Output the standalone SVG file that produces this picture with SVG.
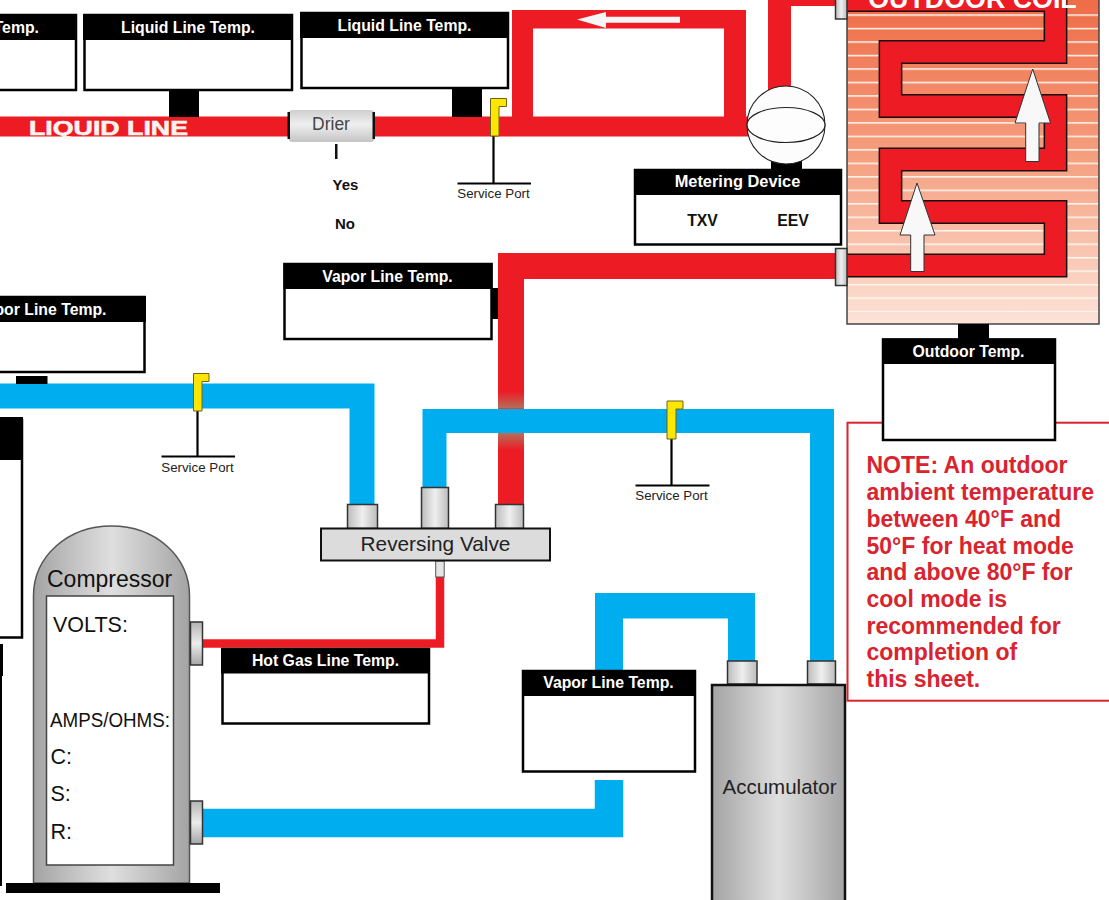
<svg xmlns="http://www.w3.org/2000/svg" width="1109" height="900" viewBox="0 0 1109 900">
<style>
text{font-family:"Liberation Sans",Arial,sans-serif}
.r{fill:#ed1c24}
.b{fill:#00aeef}
.pr{fill:none;stroke:#ed1c24;stroke-linejoin:miter}
.pb{fill:none;stroke:#00aeef;stroke-linejoin:miter}
.box{fill:#fff;stroke:#000;stroke-width:2.5}
.hd{fill:#000}
.t{font-weight:700;font-size:15.8px;fill:#fff;text-anchor:middle}
.k{font-weight:700;font-size:15.8px;fill:#111;text-anchor:middle}
.sp{font-size:13.3px;fill:#222;text-anchor:middle}
.port{fill:#ffe600;stroke:#6b6420;stroke-width:1}
.lead{fill:none;stroke:#000;stroke-width:2.2}
.fit{stroke:#333;stroke-width:1.5}
.comp{font-size:21.5px;fill:#111}
.note{font-weight:700;font-size:23px;fill:#d9232e}
.ar{fill:#f8f8f8;stroke:#333;stroke-width:1}
</style>
<defs>
<linearGradient id="gH"><stop offset="0" stop-color="#bcbcbc"/><stop offset=".5" stop-color="#efefef"/><stop offset="1" stop-color="#bcbcbc"/></linearGradient>
<linearGradient id="gV" x2="0" y2="1"><stop offset="0" stop-color="#b4b4b4"/><stop offset=".5" stop-color="#ececec"/><stop offset="1" stop-color="#a6a6a6"/></linearGradient>
<linearGradient id="gDr" x2="0" y2="1"><stop offset="0" stop-color="#cfcfcf"/><stop offset=".45" stop-color="#efefef"/><stop offset="1" stop-color="#c4c4c4"/></linearGradient>
<linearGradient id="gTank"><stop offset="0" stop-color="#a4a4a4"/><stop offset=".5" stop-color="#dfdfdf"/><stop offset="1" stop-color="#a4a4a4"/></linearGradient>
<linearGradient id="gCoil" x2="0" y2="1"><stop offset="0" stop-color="#ee6a45"/><stop offset=".5" stop-color="#f5a080"/><stop offset="1" stop-color="#fce3d8"/></linearGradient>
<linearGradient id="gUp" x2="0" y2="1"><stop offset="0" stop-color="#ed1c24"/><stop offset="1" stop-color="#b56f5c"/></linearGradient>
<linearGradient id="gDn" x2="0" y2="1"><stop offset="0" stop-color="#b56f5c"/><stop offset="1" stop-color="#ed1c24"/></linearGradient>
<pattern id="stripes" patternUnits="userSpaceOnUse" width="20" height="13.48" y="0.85"><rect width="20" height="1.5" fill="#fff6f0"/></pattern>
</defs>

<g id="connectors">
<rect class="r" x="0" y="116.500" width="750" height="20"/>
<path class="r" d="M512 120V10H746V120H724V28.500H533V120Z"/>
<path class="pr" stroke-width="23" d="M779.500 95V-6"/>
<rect class="r" x="768" y="0" width="70" height="6"/>
<path class="pr" stroke-width="26" d="M511 504V266H838"/>
<rect x="498" y="391.500" width="26" height="17" fill="url(#gUp)"/>
<rect x="498" y="433" width="26" height="17" fill="url(#gDn)"/>
<path class="pb" stroke-width="25" d="M0 396H362V504"/>
<path class="pb" stroke-width="24" d="M434.500 487V421H822V662"/>
<path class="b" d="M595 672V593H755V662H728V618.500H623V672Z"/>
<path class="pb" stroke-width="28.500" d="M203 823H609V780"/>
<path class="pr" stroke-width="8.500" d="M440 577V643.500H203"/>
</g>

<g id="outdoor-coil">
<rect x="847" y="-5" width="252" height="329" fill="url(#gCoil)" stroke="#444" stroke-width="1.500"/>
<rect x="848" y="12" width="250" height="300" fill="url(#stripes)"/>
<path d="M847 0H1055.500V52H890.500V106H1055.500V159.500H890.500V212H1055.500V265.500H847" fill="none" stroke="#1a0a0a" stroke-width="23.800"/>
<path d="M847 0H1055.500V52H890.500V106H1055.500V159.500H890.500V212H1055.500V265.500H847" fill="none" stroke="#ed1c24" stroke-width="20.800"/>
<path class="ar" d="M1032.700 69L1050.500 123H1039V161.500H1025.700V123H1015Z"/>
<path class="ar" d="M917 183L935 235H924V271.500H910.700V235H900Z"/>
<text x="972.500" y="8" font-size="26.800" font-weight="700" fill="#fff" text-anchor="middle">OUTDOOR COIL</text>
<rect class="fit" x="835.500" y="-4" width="11.500" height="23" fill="url(#gH)"/>
<rect class="fit" x="835.500" y="248.500" width="11.500" height="37" fill="url(#gH)"/>
</g>

<path id="flow-arrow" fill="#f6f6f6" d="M577 19.500L606 12V16.700H680V22.700H606V28Z"/>

<g id="temp-liquid-1">
<rect class="box" x="-5" y="15" width="81" height="75"/>
<rect class="hd" x="0" y="14" width="77" height="26"/>
<text class="t" x="39" y="33" style="text-anchor:end">Temp.</text>
</g>
<g id="temp-liquid-2">
<rect class="hd" x="169" y="90" width="30" height="27"/>
<rect class="box" x="84.500" y="15" width="207.500" height="75"/>
<rect class="hd" x="83" y="14" width="210" height="26"/>
<text class="t" x="188" y="33">Liquid Line Temp.</text>
</g>
<g id="temp-liquid-3">
<rect class="hd" x="452" y="88" width="30" height="29"/>
<rect class="box" x="301.500" y="13" width="206.500" height="75"/>
<rect class="hd" x="300" y="12" width="209" height="26"/>
<text class="t" x="404.500" y="31">Liquid Line Temp.</text>
</g>
<text id="liquid-line-label" x="29" y="135" font-size="21" font-weight="700" fill="#fbf3f0" stroke="#fbf3f0" stroke-width=".6" textLength="159" lengthAdjust="spacingAndGlyphs">LIQUID LINE</text>

<g id="drier">
<rect x="288.500" y="110" width="86" height="32" rx="4" fill="url(#gDr)"/>
<rect x="287.500" y="112" width="2.500" height="27" fill="#111"/>
<rect x="372.500" y="112" width="2.500" height="27" fill="#111"/>
<text x="331" y="130" font-size="17.500" fill="#444" text-anchor="middle">Drier</text>
<rect x="335" y="144" width="2.500" height="15" fill="#111"/>
<text x="345.500" y="189.500" font-size="15" font-weight="700" fill="#111" text-anchor="middle">Yes</text>
<text x="345" y="228.500" font-size="15" font-weight="700" fill="#111" text-anchor="middle">No</text>
</g>

<g id="service-port-1">
<path class="lead" d="M493.500 136V183.500M457.500 183.500H531"/>
<path class="port" d="M490.500 98.500H506.500V106.500H499V136H490.500Z"/>
<text class="sp" x="493.500" y="197.500">Service Port</text>
</g>

<g id="metering-device">
<rect class="hd" x="771" y="158" width="31" height="12"/>
<circle cx="786" cy="125" r="39" fill="#fcfcfc" stroke="#222" stroke-width="1.100"/>
<ellipse cx="786" cy="125" rx="39" ry="17.500" fill="#fdfdfd" stroke="#222" stroke-width="1.100"/>
<rect class="box" x="635" y="170" width="206" height="74.500"/>
<rect class="hd" x="634" y="169" width="208" height="26"/>
<text class="t" x="737.500" y="187" style="font-size:16.400px">Metering Device</text>
<text class="k" x="702.500" y="226">TXV</text>
<text class="k" x="793" y="226">EEV</text>
</g>

<g id="temp-vapor-upper">
<rect class="hd" x="490" y="288" width="8" height="31"/>
<rect class="box" x="284.500" y="264" width="207" height="75"/>
<rect class="hd" x="283.500" y="263" width="209" height="26"/>
<text class="t" x="387.500" y="282">Vapor Line Temp.</text>
</g>

<g id="temp-vapor-left">
<rect class="hd" x="16" y="376" width="31.500" height="8"/>
<rect class="box" x="-5" y="297" width="149.500" height="75"/>
<rect class="hd" x="0" y="296" width="146" height="26"/>
<text class="t" x="106.500" y="315" style="text-anchor:end">por Line Temp.</text>
</g>

<g id="temp-left-partial">
<rect class="box" x="-5" y="420" width="27" height="217.500"/>
<rect class="hd" x="0" y="417" width="23" height="43"/>
</g>
<g id="temp-left-partial-2">
<rect class="hd" x="0" y="644" width="3" height="32"/>
<rect class="hd" x="0" y="676" width="2" height="210"/>
</g>

<g id="service-port-2">
<path class="lead" d="M197.500 411V456.500M161.500 456.500H235"/>
<path class="port" d="M193.500 373.500H209V381.500H202V411H193.500Z"/>
<text class="sp" x="197.500" y="471.500">Service Port</text>
</g>

<g id="service-port-3">
<path class="lead" d="M671.500 439V485.500M635.500 485.500H709.500"/>
<path class="port" d="M667 401H683V409H676V439H667Z"/>
<text class="sp" x="671.500" y="500">Service Port</text>
</g>

<g id="reversing-valve">
<rect class="fit" x="347.500" y="504.500" width="30" height="24" fill="url(#gH)"/>
<rect class="fit" x="421.500" y="487.500" width="27" height="41" fill="url(#gH)"/>
<rect class="fit" x="495.500" y="504.500" width="28" height="24" fill="url(#gH)"/>
<rect x="435.700" y="561" width="8.500" height="16" fill="#e4e4e4" stroke="#555" stroke-width="1"/>
<rect x="321" y="528.500" width="229" height="32" fill="#dcdcdc" stroke="#111" stroke-width="2"/>
<text x="435.500" y="551" font-size="20.800" fill="#222" text-anchor="middle">Reversing Valve</text>
</g>

<g id="compressor">
<path d="M33.500 883V596C33.500 556 68 526 111.500 526S189.500 556 189.500 596V883Z" fill="url(#gTank)" stroke="#555" stroke-width="1.500"/>
<rect x="46.500" y="596" width="127" height="269" fill="#fff" stroke="#444" stroke-width="1.500"/>
<rect class="hd" x="6" y="883" width="214" height="10"/>
<rect class="fit" x="190.500" y="622" width="12" height="43" fill="url(#gV)"/>
<rect class="fit" x="190.500" y="801" width="12" height="43" fill="url(#gV)"/>
<text class="comp" x="47" y="586.500" style="font-size:23px">Compressor</text>
<text class="comp" x="53" y="632">VOLTS:</text>
<text class="comp" x="50" y="727" style="font-size:20px" textLength="120" lengthAdjust="spacingAndGlyphs">AMPS/OHMS:</text>
<text class="comp" x="50.500" y="764">C:</text>
<text class="comp" x="50.500" y="801">S:</text>
<text class="comp" x="50.500" y="838.500">R:</text>
</g>

<g id="temp-hot-gas">
<rect class="box" x="222.500" y="649" width="206.500" height="74.500"/>
<rect class="hd" x="221" y="648" width="209" height="25.500"/>
<text class="t" x="325.500" y="666">Hot Gas Line Temp.</text>
</g>

<g id="temp-vapor-lower">
<rect class="box" x="523" y="671" width="172" height="100.500"/>
<rect class="hd" x="522" y="670" width="174" height="26"/>
<text class="t" x="608.500" y="688">Vapor Line Temp.</text>
</g>

<g id="accumulator">
<rect class="fit" x="727.500" y="661" width="29.500" height="23" fill="url(#gH)"/>
<rect class="fit" x="807.500" y="661" width="28" height="23" fill="url(#gH)"/>
<rect x="712" y="685" width="133" height="225" fill="url(#gTank)" stroke="#111" stroke-width="2.500"/>
<text x="779.500" y="794" font-size="20.500" fill="#222" text-anchor="middle">Accumulator</text>
</g>

<g id="note">
<rect x="847.500" y="422.700" width="275" height="278" fill="#fff" stroke="#d9232e" stroke-width="2"/>
<text class="note" x="866.500" y="473">NOTE: An outdoor</text>
<text class="note" x="866.500" y="500">ambient temperature</text>
<text class="note" x="866.500" y="526.500">between 40°F and</text>
<text class="note" x="866.500" y="553.500">50°F for heat mode</text>
<text class="note" x="866.500" y="580">and above 80°F for</text>
<text class="note" x="866.500" y="606.500">cool mode is</text>
<text class="note" x="866.500" y="633.500">recommended for</text>
<text class="note" x="866.500" y="660">completion of</text>
<text class="note" x="866.500" y="686.500">this sheet.</text>
</g>

<g id="temp-outdoor">
<rect class="hd" x="958" y="324" width="31" height="15"/>
<rect class="box" x="883" y="339.500" width="172" height="100.500"/>
<rect class="hd" x="882" y="338.500" width="174" height="25.500"/>
<text class="t" x="968.500" y="357">Outdoor Temp.</text>
</g>
</svg>
